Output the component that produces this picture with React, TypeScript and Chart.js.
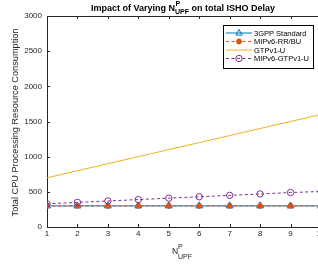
import React, { useEffect, useRef } from "react";
import { Chart, registerables } from "chart.js";
Chart.register(...registerables);

const nUpf = [1, 2, 3, 4, 5, 6, 7, 8, 9, 10];
const gpp3Standard = [300, 300, 300, 300, 300, 300, 300, 300, 300, 300];
const mipv6RRBU = [300, 300, 300, 300, 300, 300, 300, 300, 300, 300];
const gtpv1U = [700, 800, 900, 1000, 1100, 1200, 1300, 1400, 1500, 1600];
const mipv6Gtpv1U = [330, 350, 370, 390, 410, 430, 450, 470, 490, 505];
const seriesNames = ["3GPP Standard", "MIPv6-RR/BU", "GTPv1-U", "MIPv6-GTPv1-U"];
const yMin = 0;
const yMax = 3000;
const yStep = 500;

const BLUE = "#0072BD";
const ORANGE = "#D95319";
const YELLOW = "#EDB120";
const PURPLE = "#7E2F8E";
const AXIS = "#262626";
const FONT = "'Liberation Sans', Arial, sans-serif";

const CW = 330;
const CH = 274;

function drawMarker(ctx: CanvasRenderingContext2D, kind: string, x: number, y: number, color: string) {
  ctx.save();
  ctx.strokeStyle = color;
  ctx.fillStyle = color;
  ctx.lineWidth = 1;
  ctx.setLineDash([]);
  if (kind === "triangle") {
    const r = 3.5;
    ctx.beginPath();
    ctx.moveTo(x, y - r);
    ctx.lineTo(x + r * 0.9, y + r * 0.6);
    ctx.lineTo(x - r * 0.9, y + r * 0.6);
    ctx.closePath();
    ctx.stroke();
  } else if (kind === "star") {
    ctx.lineWidth = 1.6;
    const r = 3;
    ctx.beginPath();
    for (let i = 0; i < 4; i++) {
      const a = (i * Math.PI) / 4;
      ctx.moveTo(x - r * Math.cos(a), y - r * Math.sin(a));
      ctx.lineTo(x + r * Math.cos(a), y + r * Math.sin(a));
    }
    ctx.stroke();
  } else if (kind === "circle") {
    ctx.beginPath();
    ctx.arc(x, y, 3.2, 0, Math.PI * 2);
    ctx.stroke();
  }
  ctx.restore();
}

const decorPlugin = {
  id: "decor",
  afterDraw(chart: any) {
    const ctx: CanvasRenderingContext2D = chart.ctx;
    const { left, right, top, bottom } = chart.chartArea;
    const xs = chart.scales.x;
    const ys = chart.scales.y;
    ctx.save();
    // frame
    ctx.strokeStyle = AXIS;
    ctx.lineWidth = 1;
    ctx.beginPath();
    ctx.moveTo(left, top + 0.5);
    ctx.lineTo(right, top + 0.5);
    ctx.moveTo(right - 0.5, top);
    ctx.lineTo(right - 0.5, bottom);
    ctx.stroke();
    // inward ticks
    ctx.beginPath();
    for (const v of nUpf) {
      const px = Math.round(xs.getPixelForValue(v)) + 0.5;
      ctx.moveTo(px, bottom);
      ctx.lineTo(px, bottom - 3);
      ctx.moveTo(px, top);
      ctx.lineTo(px, top + 3);
    }
    for (let v = yMin; v <= yMax; v += yStep) {
      const py = Math.round(ys.getPixelForValue(v)) + 0.5;
      ctx.moveTo(left, py);
      ctx.lineTo(left + 3, py);
      ctx.moveTo(right, py);
      ctx.lineTo(right - 3, py);
    }
    ctx.stroke();

    // title
    ctx.fillStyle = "#000";
    ctx.textBaseline = "alphabetic";
    const t1 = "Impact of Varying N";
    const t2 = " on total ISHO Delay";
    ctx.font = `bold 9px ${FONT}`;
    const w1 = ctx.measureText(t1).width;
    ctx.font = `bold 7px ${FONT}`;
    const wSub = ctx.measureText("UPF").width;
    ctx.font = `bold 9px ${FONT}`;
    const w2 = ctx.measureText(t2).width;
    const total = w1 + wSub + w2;
    let tx = 183 - total / 2;
    const ty = 11;
    ctx.textAlign = "left";
    ctx.fillText(t1, tx, ty);
    tx += w1;
    ctx.font = `bold 7px ${FONT}`;
    ctx.fillText("P", tx + 0.5, ty - 5);
    ctx.fillText("UPF", tx, ty + 3);
    tx += wSub;
    ctx.font = `bold 9px ${FONT}`;
    ctx.fillText(t2, tx, ty);

    // x label
    ctx.fillStyle = AXIS;
    ctx.font = `8.5px ${FONT}`;
    const wn = ctx.measureText("N").width;
    ctx.font = `7px ${FONT}`;
    const wu = ctx.measureText("UPF").width;
    let lx = 182 - (wn + wu) / 2;
    ctx.font = `8.5px ${FONT}`;
    ctx.fillText("N", lx, 254);
    lx += wn;
    ctx.font = `7px ${FONT}`;
    ctx.fillText("P", lx, 249);
    ctx.fillText("UPF", lx, 259);

    // y label
    ctx.save();
    ctx.translate(15, (top + bottom) / 2 + 1);
    ctx.rotate(-Math.PI / 2);
    ctx.textAlign = "center";
    ctx.textBaseline = "middle";
    ctx.font = `9.2px ${FONT}`;
    ctx.fillText("Total CPU Processing Resource Consumption", 0, 0);
    ctx.restore();

    // legend
    const bx = 223.5, by = 25.5, bw = 90, bh = 43;
    ctx.fillStyle = "#fff";
    ctx.fillRect(bx, by, bw, bh);
    ctx.strokeStyle = "#000";
    ctx.lineWidth = 1;
    ctx.strokeRect(bx, by, bw, bh);
    const colors = [BLUE, ORANGE, YELLOW, PURPLE];
    const dashes = [[], [3, 2.5], [], [3, 2.5]];
    const markers = ["triangle", "star", "", "circle"];
    const rows = [33, 41.5, 50, 58.5];
    for (let i = 0; i < 4; i++) {
      const ry = rows[i];
      ctx.strokeStyle = colors[i];
      ctx.lineWidth = 1;
      ctx.setLineDash(dashes[i]);
      ctx.beginPath();
      ctx.moveTo(226, ry);
      ctx.lineTo(252, ry);
      ctx.stroke();
      ctx.setLineDash([]);
      if (markers[i]) drawMarker(ctx, markers[i], 239, ry, colors[i]);
      ctx.fillStyle = "#000";
      ctx.font = `7.5px ${FONT}`;
      ctx.textAlign = "left";
      ctx.textBaseline = "middle";
      ctx.fillText(seriesNames[i], 254, ry + 0.5);
    }
    ctx.restore();
  },
};

export default function App() {
  const ref = useRef<HTMLCanvasElement | null>(null);
  useEffect(() => {
    if (!ref.current) return;
    const toPts = (arr: number[]) => arr.map((v, i) => ({ x: nUpf[i], y: v }));
    const chart = new Chart(ref.current, {
      type: "line",
      data: {
        datasets: [
          {
            label: seriesNames[0],
            data: toPts(gpp3Standard),
            borderColor: BLUE,
            backgroundColor: "rgba(0,0,0,0)",
            borderWidth: 1,
            pointStyle: "triangle",
            pointRadius: 4,
            pointBorderColor: BLUE,
            pointBorderWidth: 1,
            order: 4,
          },
          {
            label: seriesNames[1],
            data: toPts(mipv6RRBU),
            borderColor: ORANGE,
            backgroundColor: ORANGE,
            borderWidth: 1,
            borderDash: [3, 2.5],
            pointStyle: "star",
            pointRadius: 3,
            pointBorderColor: ORANGE,
            pointBorderWidth: 1.6,
            order: 3,
          },
          {
            label: seriesNames[2],
            data: toPts(gtpv1U),
            borderColor: YELLOW,
            backgroundColor: "rgba(0,0,0,0)",
            borderWidth: 1,
            pointRadius: 0,
            order: 2,
          },
          {
            label: seriesNames[3],
            data: toPts(mipv6Gtpv1U),
            borderColor: PURPLE,
            backgroundColor: "rgba(0,0,0,0)",
            borderWidth: 1,
            borderDash: [3, 2.5],
            pointStyle: "circle",
            pointRadius: 3.2,
            pointBorderColor: PURPLE,
            pointBorderWidth: 1,
            order: 1,
          },
        ],
      },
      options: {
        responsive: false,
        animation: false,
        events: [],
        layout: { padding: { left: 0, top: 16, right: CW - 321, bottom: 0 } },
        plugins: { legend: { display: false }, tooltip: { enabled: false }, title: { display: false } },
        scales: {
          x: {
            type: "linear",
            min: 1,
            max: 10,
            ticks: { stepSize: 1, color: AXIS, font: { family: FONT, size: 8 }, padding: 2, maxRotation: 0, callback: (v: any) => String(v) },
            grid: { display: false, drawTicks: false },
            border: { display: true, color: AXIS, width: 1 },
            afterFit: (s: any) => { s.height = CH - 227; },
          },
          y: {
            type: "linear",
            min: yMin,
            max: yMax,
            ticks: { stepSize: yStep, color: AXIS, font: { family: FONT, size: 8 }, padding: 5, callback: (v: any) => String(v) },
            grid: { display: false, drawTicks: false },
            border: { display: true, color: AXIS, width: 1 },
            afterFit: (s: any) => { s.width = 47; },
          },
        },
      },
      plugins: [decorPlugin],
    } as any);
    return () => chart.destroy();
  }, []);
  return (
    <div style={{ position: "fixed", left: 0, top: 0, width: 318, height: 274, overflow: "hidden", background: "#fff" }}>
      <canvas ref={ref} width={CW} height={CH} style={{ width: CW, height: CH, display: "block" }} />
    </div>
  );
}
